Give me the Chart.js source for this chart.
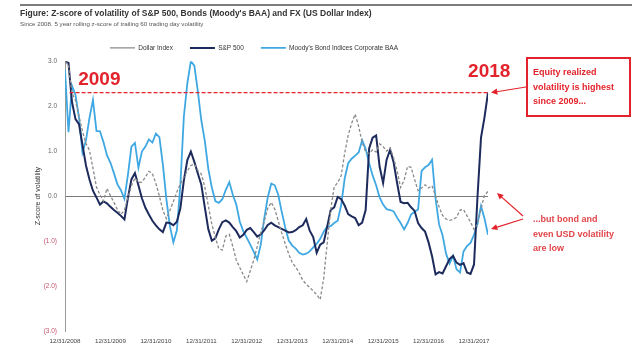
<!DOCTYPE html>
<html>
<head>
<meta charset="utf-8">
<script src="https://cdn.jsdelivr.net/npm/chart.js@4"></script>
<style>
    html, body { margin: 0; padding: 0; background: #fff; }
    canvas { display: block; }
</style>
</head>
<body>
<canvas id="volChart" width="637" height="349"></canvas>
<script>
const yearEndLabels = ['12/31/2008', '12/31/2009', '12/31/2010', '12/31/2011', '12/31/2012',
    '12/31/2013', '12/31/2014', '12/31/2015', '12/31/2016', '12/31/2017'];

// one sample every 4 weeks, starting 12/31/2008
const samplesPerYear = 13;

const sp500 = [
    3.0, 2.96, 2.09, 1.71, 1.60, 1.14, 0.68, 0.37, 0.12, -0.03,
    -0.19, -0.12, -0.16, -0.24, -0.31, -0.37, -0.44, -0.52, -0.04, 0.37,
    0.51, 0.24, -0.05, -0.26, -0.41, -0.55, -0.65, -0.74, -0.80, -0.59,
    -0.60, -0.65, -0.57, -0.27, 0.35, 0.80, 0.99, 0.76, 0.50, 0.25,
    -0.25, -0.74, -0.99, -0.94, -0.74, -0.58, -0.54, -0.59, -0.69, -0.78,
    -0.92, -0.86, -0.75, -0.71, -0.80, -0.90, -0.85, -0.76, -0.64, -0.59,
    -0.65, -0.69, -0.73, -0.77, -0.81, -0.80, -0.76, -0.69, -0.65, -0.51,
    -0.77, -0.91, -1.26, -1.08, -1.03, -0.68, -0.31, -0.25, -0.02, -0.07,
    -0.21, -0.40, -0.45, -0.49, -0.65, -0.59, -0.31, 1.06, 1.30, 1.35,
    0.65, 0.29, 0.81, 1.03, 0.75, 0.29, -0.13, -0.16, -0.15, -0.25,
    -0.33, -0.60, -0.71, -0.79, -1.03, -1.34, -1.74, -1.69, -1.72, -1.56,
    -1.40, -1.33, -1.48, -1.53, -1.49, -1.70, -1.73, -1.52, -0.01, 1.30,
    1.75, 2.30
];

const moodysBaa = [
    2.8, 1.42, 2.45, 2.25, 1.75, 0.97, 1.24, 1.74, 2.14, 1.45,
    1.44, 1.20, 0.91, 0.74, 0.51, 0.26, 0.13, -0.06, 0.47, 1.10,
    1.18, 0.63, 0.99, 1.10, 1.26, 1.19, 1.39, 1.31, 0.70, -0.07,
    -0.67, -1.03, -0.76, 0.24, 1.77, 2.51, 3.0, 2.9, 2.33, 1.68,
    1.22, 0.60, 0.19, -0.11, -0.15, -0.07, 0.14, 0.31, 0.03, -0.19,
    -0.57, -0.78, -0.93, -1.08, -1.24, -1.41, -1.08, -0.49, -0.03, 0.28,
    0.24, 0.03, -0.35, -0.70, -0.99, -1.10, -1.17, -1.26, -1.30, -1.28,
    -1.23, -1.14, -1.06, -0.95, -0.79, -0.68, -0.67, -0.60, -0.55, -0.20,
    0.39, 0.73, 0.83, 0.90, 0.97, 1.24, 1.05, 0.73, 0.46, 0.24,
    -0.03, -0.19, -0.29, -0.31, -0.34, -0.48, -0.60, -0.74, -0.60, -0.41,
    -0.35, -0.30, 0.56, 0.64, 0.69, 0.81, -0.06, -0.63, -0.87, -1.28,
    -1.50, -1.33, -1.63, -1.70, -1.23, -1.11, -1.04, -0.86, -0.62, -0.22,
    -0.50, -0.86
];

const dollarIndex = [
    3.0, 2.9, 2.29, 2.13, 1.77, 1.44, 1.17, 1.02, 0.62, 0.20,
    0.03, -0.11, 0.17, 0.01, -0.14, -0.30, -0.41, -0.31, -0.03, 0.23,
    0.40, 0.30, 0.31, 0.42, 0.55, 0.50, 0.28, 0.00, -0.32, -0.50,
    -0.32, -0.12, 0.09, 0.27, 0.42, 0.56, 0.68, 0.71, 0.57, 0.49,
    0.20, -0.22, -0.62, -0.92, -1.17, -1.20, -0.89, -0.85, -1.12, -1.42,
    -1.59, -1.75, -1.90, -1.66, -1.42, -1.12, -0.81, -0.56, -0.27, -0.14,
    -0.29, -0.55, -0.82, -1.06, -1.29, -1.48, -1.58, -1.71, -1.87, -1.96,
    -2.03, -2.11, -2.19, -2.30, -1.83, -1.05, -0.30, 0.20, 0.30, 0.45,
    0.95, 1.35, 1.62, 1.82, 1.55, 1.20, 0.98, 0.95, 1.03, 0.98,
    1.16, 1.10, 1.00, 1.07, 0.85, 0.56, 0.19, 0.35, 0.66, 0.64,
    0.37, 0.12, 0.18, 0.25, 0.18, 0.23, 0.00, -0.24, -0.43, -0.51,
    -0.54, -0.52, -0.47, -0.31, -0.30, -0.44, -0.58, -0.74, -0.62, -0.28,
    0.02, 0.10
];

// latest equity z-score, same level as the 2009 reading
const equityPeakLevel = sp500[sp500.length - 1];

const FONT = 'Liberation Sans, Arial, sans-serif';
const RED = '#e3232b';

function toPoints(values) {
    return values.map((v, i) => ({ x: i / samplesPerYear, y: v }));
}

function drawArrow(ctx, x1, y1, x2, y2) {
    const a = Math.atan2(y2 - y1, x2 - x1);
    ctx.beginPath();
    ctx.moveTo(x1, y1);
    ctx.lineTo(x2 - 4 * Math.cos(a), y2 - 4 * Math.sin(a));
    ctx.stroke();
    ctx.beginPath();
    ctx.moveTo(x2, y2);
    ctx.lineTo(x2 - 7 * Math.cos(a - 0.45), y2 - 7 * Math.sin(a - 0.45));
    ctx.lineTo(x2 - 7 * Math.cos(a + 0.45), y2 - 7 * Math.sin(a + 0.45));
    ctx.closePath();
    ctx.fill();
}

//-------------------------------
// callouts: 2009 / 2018 level line, text box and arrows
const callouts = {
    id: 'callouts',
    beforeDraw(chart) {
        const ctx = chart.ctx;
        ctx.save();
        ctx.strokeStyle = '#7d7d7d';
        ctx.lineWidth = 2;
        ctx.beginPath();
        ctx.moveTo(20, 5);
        ctx.lineTo(632, 5);
        ctx.stroke();
        ctx.restore();
    },
    afterDatasetsDraw(chart) {
        const ctx = chart.ctx;
        const xs = chart.scales.x;
        const ys = chart.scales.y;
        const lastX = xs.getPixelForValue((sp500.length - 1) / samplesPerYear);
        const levelY = ys.getPixelForValue(equityPeakLevel);

        ctx.save();
        ctx.strokeStyle = RED;
        ctx.lineWidth = 1.3;
        ctx.setLineDash([4, 2]);
        ctx.beginPath();
        ctx.moveTo(xs.getPixelForValue(0.1), levelY);
        ctx.lineTo(lastX, levelY);
        ctx.stroke();
        ctx.setLineDash([]);

        ctx.fillStyle = RED;
        ctx.textBaseline = 'middle';
        ctx.textAlign = 'left';
        ctx.font = 'bold 19px ' + FONT;
        ctx.fillText('2009', xs.getPixelForValue(0.29), ys.getPixelForValue(2.58));
        ctx.fillText('2018', xs.getPixelForValue(8.87), ys.getPixelForValue(2.77));

        // text box on the right
        ctx.lineWidth = 2;
        ctx.strokeRect(527, 58, 103, 58);
        ctx.font = 'bold 9px ' + FONT;
        ctx.fillText('Equity realized', 533, 73);
        ctx.fillText('volatility is highest', 533, 87.5);
        ctx.fillText('since 2009...', 533, 102);

        ctx.fillStyle = '#e2454a';
        ctx.fillText('...but bond and', 533, 220);
        ctx.fillText('even USD volatility', 533, 234.5);
        ctx.fillText('are low', 533, 249);

        ctx.strokeStyle = RED;
        ctx.fillStyle = RED;
        ctx.lineWidth = 1.2;
        drawArrow(ctx, 526, 87, lastX + 3, levelY);
        drawArrow(ctx, 523, 216, 497, 193);
        drawArrow(ctx, 523, 219, 491, 229);
        ctx.restore();
    }
};

//-------------------------------
const ctx = document.getElementById('volChart');

new Chart(ctx, {
    type: 'line',
    data: {
        datasets: [
            {
                label: 'Dollar Index',
                data: toPoints(dollarIndex),
                borderColor: '#8a8a8a',
                backgroundColor: '#8a8a8a',
                borderWidth: 1.3,
                borderDash: [3, 2]
            },
            {
                label: 'S&P 500',
                data: toPoints(sp500),
                borderColor: '#1d2a5c',
                backgroundColor: '#1d2a5c',
                borderWidth: 2
            },
            {
                label: "Moody's Bond Indices Corporate BAA",
                data: toPoints(moodysBaa),
                borderColor: '#3fa8e2',
                backgroundColor: '#3fa8e2',
                borderWidth: 1.8
            }
        ]
    },
    options: {
        responsive: false,
        animation: false,
        events: [],
        elements: {
            point: { radius: 0 },
            line: { tension: 0 }
        },
        layout: {
            padding: { top: 9, left: 20, right: 149, bottom: 0 }
        },
        scales: {
            x: {
                type: 'linear',
                min: 0,
                max: (sp500.length - 1) / samplesPerYear,
                afterFit(scale) {
                    scale.height = 18;
                },
                border: { display: false },
                grid: { display: false, drawTicks: false },
                ticks: {
                    stepSize: 1,
                    includeBounds: false,
                    autoSkip: false,
                    maxRotation: 0,
                    padding: 7,
                    color: '#444',
                    font: { family: FONT, size: 6.2 },
                    callback: v => yearEndLabels[Math.round(v)] ?? ''
                }
            },
            y: {
                min: -3,
                max: 3,
                afterFit(scale) {
                    scale.width = 45;
                },
                border: { color: '#9a9a9a', width: 1 },
                grid: {
                    drawTicks: false,
                    color: c => (c.tick && c.tick.value === 0 ? '#7a7a7a' : 'rgba(0,0,0,0)')
                },
                ticks: {
                    stepSize: 1,
                    padding: 8,
                    color: c => (c.tick.value < 0 ? '#c4566f' : '#666'),
                    font: { family: FONT, size: 6.5 },
                    callback: v => (v < 0 ? '(' + (-v).toFixed(1) + ')' : v.toFixed(1))
                },
                title: {
                    display: true,
                    text: 'Z-score of volatility',
                    color: '#333',
                    font: { family: FONT, size: 7 },
                    padding: { top: 14, bottom: 0 }
                }
            }
        },
        plugins: {
            tooltip: { enabled: false },
            title: {
                display: true,
                align: 'start',
                text: "Figure: Z-score of volatility of S&P 500, Bonds (Moody's BAA) and FX (US Dollar Index)",
                color: '#333',
                font: { family: FONT, size: 8.5, weight: 'bold', lineHeight: 1.2 },
                padding: { top: 0, bottom: 1 }
            },
            subtitle: {
                display: true,
                align: 'start',
                text: 'Since 2008. 5 year rolling z-score of trailing 60 trading day volatility',
                color: '#555',
                font: { family: FONT, size: 6.2, lineHeight: 1.2 },
                padding: { top: 0, bottom: 0 }
            },
            legend: {
                position: 'top',
                labels: {
                    usePointStyle: true,
                    pointStyle: 'line',
                    pointStyleWidth: 25,
                    padding: 17,
                    color: '#333',
                    font: { family: FONT, size: 6.5 }
                }
            }
        }
    },
    plugins: [callouts]
});
</script>
</body>
</html>
